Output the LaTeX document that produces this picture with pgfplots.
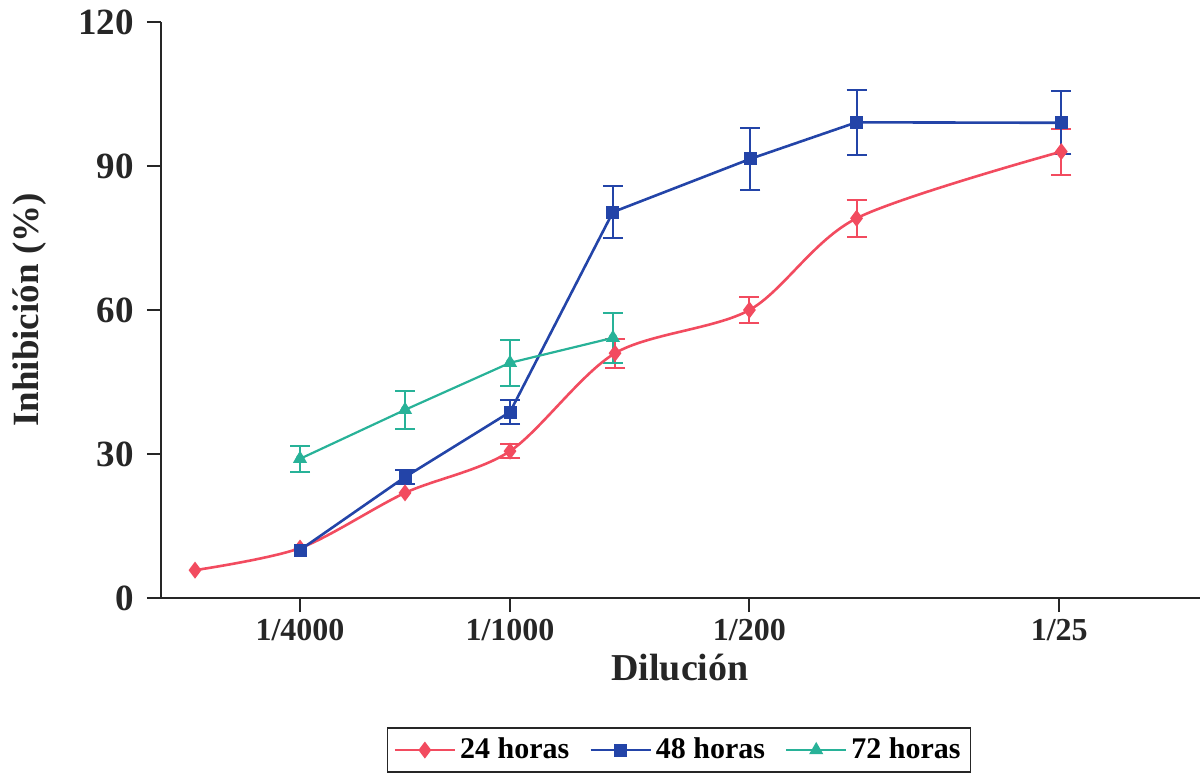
\documentclass[border=0pt]{standalone}
\usepackage{fontspec}
\setmainfont{Liberation Serif}
\usepackage{pgfplots}
\pgfplotsset{compat=1.18}
\definecolor{c24}{RGB}{242,75,95}
\definecolor{c48}{RGB}{35,68,168}
\definecolor{c72}{RGB}{40,178,152}
\begin{document}
\begin{tikzpicture}
\useasboundingbox (-80.5pt,-89pt) rectangle (520.5pt,299pt);
\begin{axis}[
  at={(0pt,0pt)}, anchor=south west,
  scale only axis, width=519.5pt, height=288pt,
  xmin=-0.324, xmax=9.571, ymin=0, ymax=120,
  axis lines*=left,
  axis line style={line width=1pt, color=black!85},
  xtick={1,3,5.28,8.23}, xticklabels={1/4000,1/1000,1/200,1/25},
  ytick={0,30,60,90,120},
  tick align=outside, major tick length=7pt,
  tick style={line width=1pt, color=black!85},
  /pgf/number format/assume math mode=true,
  xticklabel style={font=\bfseries\fontsize{16}{16}\selectfont, text=black!85},
  yticklabel style={font=\bfseries\fontsize{18.5}{18.5}\selectfont, text=black!85, xshift=-3pt},
  xlabel={Dilución},
  ylabel={Inhibición (\%)},
  xlabel style={at={(axis description cs:0.4995,-0.1215)}, anchor=center, font=\bfseries\fontsize{19}{19}\selectfont, text=black!85},
  ylabel style={at={(axis description cs:-0.126,0.5)}, anchor=center, font=\bfseries\fontsize{18.5}{18.5}\selectfont, text=black!85},
  legend style={at={(axis description cs:0.4986,-0.264)}, anchor=center, legend columns=3, draw=black!85, line width=0.8pt, font=\bfseries\fontsize{15}{15}\selectfont, inner xsep=3pt, inner ysep=3pt,
    /tikz/every even column/.append style={column sep=8pt}},
  legend image code/.code={\draw[mark repeat=2,mark phase=2] plot coordinates {(0pt,0pt) (15pt,0pt) (30pt,0pt)};},
  legend cell align=left,
]
% error bars (drawn first)
\addplot[c24, only marks, mark=none, forget plot, error bars/.cd, y dir=both, y explicit,
  error bar style={line width=1pt, c24}, error mark options={rotate=90, c24, mark size=5pt, line width=1pt}]
  coordinates {(3,30.6) +- (0,1.5) (4,51) +- (0,3) (5.28,60) +- (0,2.8) (6.30,79.1) +- (0,3.9) (8.25,93) +- (0,4.8)};
\addplot[c48, only marks, mark=none, forget plot, error bars/.cd, y dir=both, y explicit,
  error bar style={line width=1pt, c48}, error mark options={rotate=90, c48, mark size=5pt, line width=1pt}]
  coordinates {(2,25.2) +- (0,1.5) (3,38.75) +- (0,2.6) (3.98,80.4) +- (0,5.5) (5.29,91.5) +- (0,6.4) (6.30,99.1) +- (0,6.8) (8.25,99.0) +- (0,6.6)};
\addplot[c72, only marks, mark=none, forget plot, error bars/.cd, y dir=both, y explicit,
  error bar style={line width=1pt, c72}, error mark options={rotate=90, c72, mark size=5pt, line width=1pt}]
  coordinates {(1,29) +- (0,2.7) (2,39.2) +- (0,3.9) (3,49) +- (0,4.8) (3.98,54.2) +- (0,5.2)};
% series
\addplot[c24, line width=1.3pt, smooth, tension=0.5, mark=diamond*, mark size=3.2pt, mark options={solid, fill=c24}]
  coordinates {(0,5.8) (1,10.4) (2,21.9) (3,30.6) (4,51) (5.28,60) (6.30,79.1) (8.25,93)};
\addlegendentry{24 horas}
\addplot[c48, line width=1.3pt, mark=square*, mark size=2.6pt, mark options={solid, fill=c48}]
  coordinates {(1,10) (2,25.2) (3,38.75) (3.98,80.4) (5.29,91.5) (6.30,99.1) (8.25,99.0)};
\addlegendentry{48 horas}
\addplot[c72, line width=1.1pt, mark=triangle*, mark size=3pt, mark options={solid, fill=c72}]
  coordinates {(1,29) (2,39.2) (3,49) (3.98,54.2)};
\addlegendentry{72 horas}
\end{axis}
\end{tikzpicture}
\end{document}
